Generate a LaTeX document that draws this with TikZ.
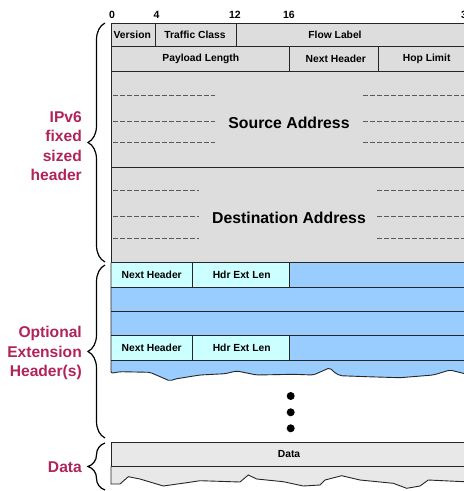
\documentclass[tikz,border=0pt]{standalone}
\usepackage{fontspec}
\setmainfont{Liberation Sans}
\usetikzlibrary{decorations.pathreplacing}

\definecolor{hdrgray}{HTML}{DDDDDD}
\definecolor{datagray}{HTML}{E8E8E8}
\definecolor{extcyan}{HTML}{CCFFFF}
\definecolor{extblue}{HTML}{99CCFF}
\definecolor{labelred}{HTML}{B0245A}

\tikzset{
  cell/.style={draw=black!85, line width=1pt},
  fieldlabel/.style={font=\fontsize{10.3}{12}\selectfont\bfseries, inner sep=0pt},
  bitlabel/.style={font=\fontsize{10.5}{12}\selectfont\bfseries, inner sep=0pt},
  addrlabel/.style={font=\fontsize{15.8}{19}\selectfont\bfseries, inner sep=0pt},
  sidelabel/.style={font=\fontsize{15.6}{19.5}\selectfont\bfseries, text=labelred,
                    align=right, anchor=east, inner sep=0pt},
  groupbrace/.style={decorate, decoration={brace, amplitude=17pt}, line width=1.2pt},
  dashrule/.style={dash pattern=on 5pt off 2pt, line width=0.9pt, draw=black!65},
  tear/.style={draw=black!85, line width=0.9pt},
  dot/.style={circle, fill=black, inner sep=0pt, minimum size=8pt}
}

\begin{document}
\begin{tikzpicture}[x=1pt, y=-1pt]
\useasboundingbox (0,0) rectangle (464,491);
\clip (0,0) rectangle (464,491);

% ---------- bit positions ----------
\node[bitlabel] (b0)  at (112,14.7) {0};
\node[bitlabel] (b4)  at (156.5,14.7) {4};
\node[bitlabel] (b12) at (235,14.7) {12};
\node[bitlabel] (b16) at (289,14.7) {16};
\node[bitlabel] (b32) at (467,14.7) {32};

% ---------- fixed header ----------
\fill[hdrgray] (111,23.3) rectangle (467,262.5);
\draw[cell] (111,23.3) rectangle (467,46.7);
\draw[cell] (155,23.3) -- (155,46.7);
\draw[cell] (236.7,23.3) -- (236.7,46.7);
\draw[cell] (111,46.7) rectangle (467,71);
\draw[cell] (289,46.7) -- (289,71);
\draw[cell] (378.3,46.7) -- (378.3,71);
\draw[cell] (111,71) rectangle (467,167.7);
\draw[cell] (111,167.7) rectangle (467,262.5);

\node[fieldlabel] (ver)  at (132.3,35) {Version};
\node[fieldlabel] (tc)   at (195,35) {Traffic Class};
\node[fieldlabel] (fl)   at (335,35) {Flow Label};
\node[fieldlabel] (pl)   at (200.8,59) {Payload Length};
\node[fieldlabel] (nh)   at (335.8,59) {Next Header};
\node[fieldlabel] (hl)   at (426.7,59) {Hop Limit};

% source address
\node[addrlabel] (src) at (289,123) {Source Address};
\foreach \yy in {95.7,121.5,142.7}{
  \draw[dashrule] (113,\yy) -- (215,\yy);
  \draw[dashrule] (363,\yy) -- (467,\yy);
}
% destination address
\node[addrlabel] (dst) at (289,217.5) {Destination Address};
\foreach \yy in {190,216,238.3}{
  \draw[dashrule] (113,\yy) -- (199,\yy);
  \draw[dashrule] (377,\yy) -- (467,\yy);
}

% ---------- extension headers ----------
\fill[extblue] (111,262.5) rectangle (467,360);
\fill[extcyan] (111,262.5) rectangle (289,287.3);
\fill[extcyan] (111,335.7) rectangle (289,360);
\fill[extblue, rounded corners=2pt]
  (111,360) -- (111,373.3) -- (120,371.7) -- (150,372.3) -- (170,381) -- (175,379)
  -- (200,375) -- (225,373.7) -- (236.7,371) -- (243.3,372.3) -- (256.7,375)
  -- (293.3,374.3) -- (313.3,375) -- (330,367.7) -- (333.3,371.7) -- (340,375.7)
  -- (366.7,376.7) -- (400,377.7) -- (433.3,375) -- (450,370) -- (463.3,373.3)
  -- (470,375) -- (470,360) -- cycle;
\foreach \yy in {262.5,287.3,311.7,335.7,360}{
  \draw[cell] (111,\yy) -- (467,\yy);
}
\draw[cell] (192.3,262.5) -- (192.3,287.3);
\draw[cell] (289,262.5) -- (289,287.3);
\draw[cell] (192.3,335.7) -- (192.3,360);
\draw[cell] (289,335.7) -- (289,360);
\draw[tear, rounded corners=2pt]
  (111,262.5) -- (111,373.3) -- (120,371.7) -- (150,372.3) -- (170,381) -- (175,379)
  -- (200,375) -- (225,373.7) -- (236.7,371) -- (243.3,372.3) -- (256.7,375)
  -- (293.3,374.3) -- (313.3,375) -- (330,367.7) -- (333.3,371.7) -- (340,375.7)
  -- (366.7,376.7) -- (400,377.7) -- (433.3,375) -- (450,370) -- (463.3,373.3)
  -- (470,375);

\node[fieldlabel] (nh1)  at (151.7,275.3) {Next Header};
\node[fieldlabel] (hel1) at (241.7,275.3) {Hdr Ext Len};
\node[fieldlabel] (nh2)  at (151.7,347.9) {Next Header};
\node[fieldlabel] (hel2) at (241.7,347.9) {Hdr Ext Len};

% continuation dots
\node[dot] (d1) at (290.7,396) {};
\node[dot] (d2) at (290.7,412.3) {};
\node[dot] (d3) at (290.7,428.3) {};

% ---------- data ----------
\fill[datagray] (111,442.3) -- (470,442.3) -- (470,481.7) -- (464,481.7)
  -- (428.3,480) -- (420,486) -- (406.7,488.3) -- (393.3,483.3) -- (360,480)
  -- (341.7,475.7) -- (325,480) -- (320,485) -- (303.3,486) -- (283.3,481.7)
  -- (256.7,479) -- (248.3,475) -- (240,482) -- (200,480.7) -- (186.7,482.7)
  -- (163.3,486) -- (140,479) -- (128.3,476.7) -- (120,484) -- (111,484) -- cycle;
\draw[cell] (111,442.3) rectangle (470,466.7);
\draw[tear] (111,466.7) -- (111,484) -- (120,484) -- (128.3,476.7) -- (140,479)
  -- (163.3,486) -- (186.7,482.7) -- (200,480.7) -- (240,482) -- (248.3,475)
  -- (256.7,479) -- (283.3,481.7) -- (303.3,486) -- (320,485) -- (325,480)
  -- (341.7,475.7) -- (360,480) -- (393.3,483.3) -- (406.7,488.3) -- (420,486)
  -- (428.3,480) -- (464,481.7) -- (470,481.7);
\node[fieldlabel] (data) at (289,454.5) {Data};

% ---------- group braces and labels ----------
\coordinate (fixTop) at (105,23);
\coordinate (fixBot) at (105,262);
\coordinate (extTop) at (105,265);
\coordinate (extBot) at (105,438);
\coordinate (datTop) at (105,443);
\coordinate (datBot) at (105,490);
\draw[groupbrace] (fixBot) -- (fixTop);
\draw[groupbrace] (extBot) -- (extTop);
\draw[groupbrace] (datBot) -- (datTop);

\node[sidelabel] (lfix) at (82,146) {IPv6\\fixed\\sized\\header};
\node[sidelabel] (lext) at (82,353) {Optional\\Extension\\Header(s)};
\node[sidelabel] (ldat) at (82,467) {Data};
\end{tikzpicture}
\end{document}
